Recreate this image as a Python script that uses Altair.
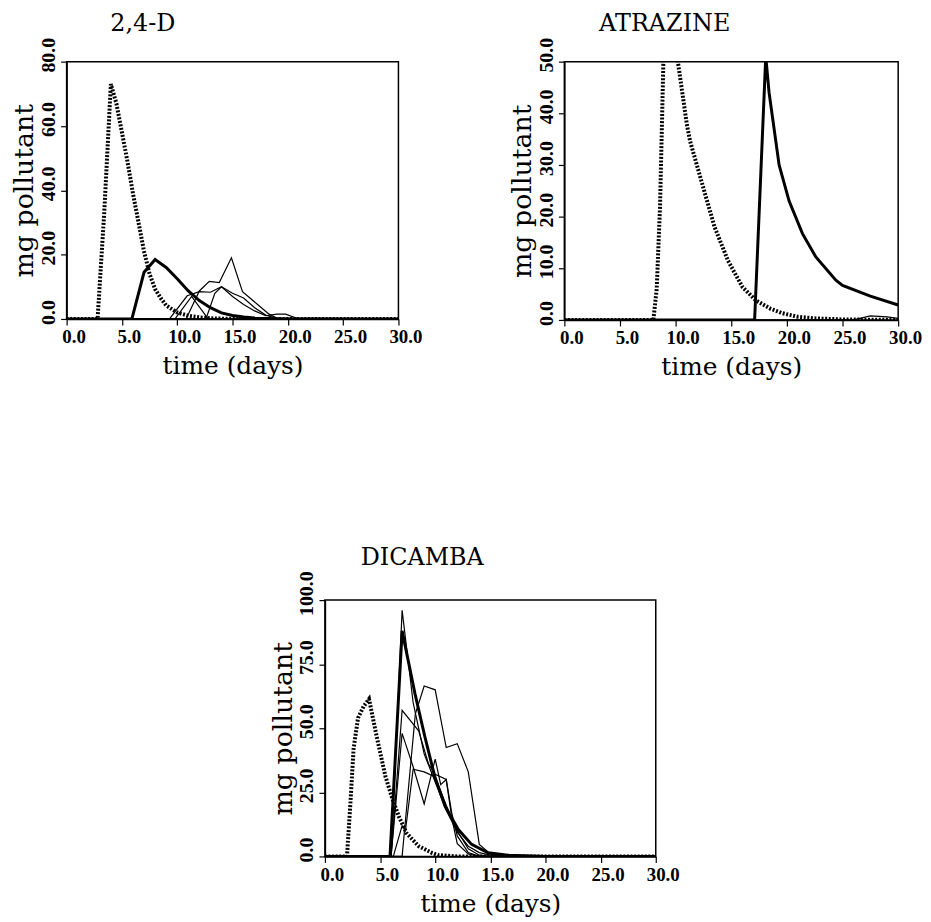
import altair as alt
import pandas as pd

# ---------------- data ----------------
# 2,4-D
d24_dot_t = [0, 2.8, 3.4, 4.0, 4.5, 5.0, 5.5, 6.0, 6.5, 7.0, 7.5, 8.0, 8.5, 9.0, 10.0, 11.0, 12.0, 13.0, 15.0, 30]
d24_dot_v = [0, 0, 33, 73, 67, 58, 49, 39, 30, 21, 14, 9.3, 6.5, 4.2, 2.0, 1.0, 0.5, 0.2, 0, 0]
d24_thick_t = [0, 5.9, 7, 8, 9, 10, 11, 12, 13, 14, 15, 16, 17, 18, 20, 30]
d24_thick_v = [0, 0, 14.5, 18.5, 16, 12.5, 8.7, 5.7, 3.5, 1.9, 1.1, 0.6, 0.3, 0.15, 0, 0]
d24_thin1_t = [0, 10.8, 12, 12.9, 13.8, 14.9, 15.9, 17.4, 18.3, 19, 30]
d24_thin1_v = [0, 0, 8.7, 11.7, 11.3, 19, 8.5, 4.1, 1.5, 0.3, 0]
d24_thin2_t = [0, 9.3, 10.9, 12, 13, 14, 15, 16, 17, 18, 19, 19.8, 21, 30]
d24_thin2_v = [0, 0, 7.2, 8.5, 8.3, 10, 7, 4.5, 2.5, 1, 1.5, 1.5, 0, 0]
d24_thin3_t = [0, 12.6, 13.4, 14, 15, 16, 17, 18, 19, 20, 30]
d24_thin3_v = [0, 0, 8, 10, 8, 6.5, 3.5, 1.2, 0.2, 0, 0]
d24_thin4_t = [0, 9.8, 11.3, 12.8, 30]
d24_thin4_v = [0, 0, 7, 0, 0]

# ATRAZINE
atr_dot_t = [0, 8.0, 8.3, 8.6, 8.9, 9.5, 10.2, 10.7, 11.0, 11.3, 12.5, 13.5, 14.7, 16.0, 17.2, 18.5, 19.6, 21.0, 22.6, 25.0, 30]
atr_dot_v = [0, 0, 6, 22, 50, 60, 50, 42.5, 38, 34.6, 25.5, 18, 11.5, 6.4, 3.8, 2.2, 1.3, 0.6, 0.3, 0.1, 0]
atr_thick_t = [0, 17.1, 18.1, 18.4, 19.3, 20.2, 21.4, 22.6, 24.4, 25.0, 27.5, 30]
atr_thick_v = [0, 0, 51, 44, 30, 23, 16.7, 12.2, 7.7, 6.7, 4.6, 2.9]
atr_thin1_t = [0, 26, 27.5, 29, 30]
atr_thin1_v = [0, 0, 0.8, 0.6, 0.3]

# DICAMBA
dic_dot_t = [0, 2.0, 2.3, 2.6, 3.0, 3.5, 4.0, 4.7, 5.5, 6.1, 6.7, 7.4, 8.5, 9.7, 10.3, 12, 30]
dic_dot_v = [0, 0, 20, 42, 54, 58.5, 61.4, 46.6, 31, 22.7, 15.6, 9.1, 4, 1.4, 0.5, 0, 0]
dic_thick_t = [0, 5.9, 7.0, 8.17, 9.07, 9.97, 10.9, 12.1, 13.3, 14.8, 16.6, 20, 30]
dic_thick_v = [0, 0, 88, 63.4, 46.6, 31, 19.5, 10.5, 4.7, 1.4, 0.5, 0, 0]
dic_thin1_t = [0, 6, 7, 8, 9, 10, 11, 12, 13, 14, 15, 30]
dic_thin1_v = [0, 0, 96, 60, 40, 29, 18, 9.5, 4, 1.5, 0.5, 0]
dic_thin2_t = [0, 6, 7, 8.5, 9.4, 10, 11, 11.5, 12, 13, 14, 30]
dic_thin2_v = [0, 0, 57, 49, 36, 32, 30, 17, 8, 1.5, 0, 0]
dic_thin3_t = [0, 6, 7, 8, 9, 10, 10.5, 11, 11.5, 12, 13, 14, 30]
dic_thin3_v = [0, 0, 48, 35, 20.5, 38, 28, 30, 15, 5, 1, 0, 0]
dic_thin4_t = [0, 7.0, 8.2, 9.0, 10.0, 11.0, 12.0, 13.0, 14.0, 15, 16, 30]
dic_thin4_v = [0, 0, 55.6, 66.5, 65, 42.5, 44, 33, 4.7, 1, 0, 0]
dic_thin5_t = [0, 6.2, 7, 7.3, 8, 9, 10, 11, 12, 13, 14, 15, 30]
dic_thin5_v = [0, 0, 12, 10, 34, 33, 31, 20, 10, 3, 0.5, 0, 0]

x_ticks = [0, 5, 10, 15, 20, 25, 30]

series = [
    ("2,4-D", "dot", "s0", d24_dot_t, d24_dot_v),
    ("2,4-D", "thick", "s1", d24_thick_t, d24_thick_v),
    ("2,4-D", "thin", "s2", d24_thin1_t, d24_thin1_v),
    ("2,4-D", "thin", "s3", d24_thin2_t, d24_thin2_v),
    ("2,4-D", "thin", "s4", d24_thin3_t, d24_thin3_v),
    ("2,4-D", "thin", "s5", d24_thin4_t, d24_thin4_v),
    ("ATRAZINE", "dot", "s0", atr_dot_t, atr_dot_v),
    ("ATRAZINE", "thick", "s1", atr_thick_t, atr_thick_v),
    ("ATRAZINE", "thin", "s2", atr_thin1_t, atr_thin1_v),
    ("DICAMBA", "dot", "s0", dic_dot_t, dic_dot_v),
    ("DICAMBA", "thick", "s1", dic_thick_t, dic_thick_v),
    ("DICAMBA", "thin", "s2", dic_thin1_t, dic_thin1_v),
    ("DICAMBA", "thin", "s3", dic_thin2_t, dic_thin2_v),
    ("DICAMBA", "thin", "s4", dic_thin3_t, dic_thin3_v),
    ("DICAMBA", "thin", "s5", dic_thin4_t, dic_thin4_v),
    ("DICAMBA", "thin", "s6", dic_thin5_t, dic_thin5_v),
]

rows = []
for panel, kind, sid, ts, vs in series:
    for t, v in zip(ts, vs):
        rows.append({"panel": panel, "kind": kind, "series": sid, "t": t, "v": v})
df = pd.DataFrame(rows)

SERIF = "DejaVu Serif"
LABEL_FONT = "Liberation Serif"


def panel(name, ymax, yticks, w, h, title_dx):
    data = df[df.panel == name]
    x = alt.X("t:Q",
              scale=alt.Scale(domain=[0, 30], nice=False),
              axis=alt.Axis(values=x_ticks, format=".1f", title="time (days)",
                            labelFont=LABEL_FONT, labelFontSize=19, labelFontWeight="bold",
                            labelOffset=7, labelPadding=3, labelFlush=False,
                            titleFont=SERIF, titleFontSize=25, titleFontWeight="normal",
                            titlePadding=7, grid=False,
                            domainColor="black", domainWidth=1.5,
                            tickColor="black", tickSize=6, tickWidth=1.2,
                            labelColor="black", titleColor="black"))
    y = alt.Y("v:Q",
              scale=alt.Scale(domain=[0, ymax], nice=False),
              axis=alt.Axis(values=yticks, format=".1f", title="mg pollutant",
                            labelAngle=-90, labelAlign="center", labelBaseline="bottom",
                            labelFont=LABEL_FONT, labelFontSize=20, labelFontWeight="bold",
                            labelOffset=-7, labelPadding=2, labelFlush=False,
                            titleFont=SERIF, titleFontSize=27, titleFontWeight="normal",
                            titlePadding=0, grid=False,
                            domainColor="black", domainWidth=1.5,
                            tickColor="black", tickSize=6, tickWidth=1.2,
                            labelColor="black", titleColor="black"))
    base = alt.Chart(data)
    thin = base.transform_filter(alt.datum.kind == "thin").mark_line(
        color="black", strokeWidth=1.2, clip=True).encode(x=x, y=y, detail="series:N")
    thick = base.transform_filter(alt.datum.kind == "thick").mark_line(
        color="black", strokeWidth=3, clip=True).encode(x=x, y=y, detail="series:N")
    dot = base.transform_filter(alt.datum.kind == "dot").mark_line(
        color="black", strokeWidth=4, strokeDash=[2, 1.6], clip=True).encode(x=x, y=y, detail="series:N")
    return alt.layer(thin, thick, dot).properties(
        width=w, height=h,
        title=alt.TitleParams(name, anchor="start", frame="group", dx=title_dx,
                              font=SERIF, fontSize=24, fontWeight="normal",
                              color="black", offset=1),
    )


p1 = panel("2,4-D", 80, [0, 20, 40, 60, 80], 334, 259, 44)
p2 = panel("ATRAZINE", 50, [0, 10, 20, 30, 40, 50], 336, 260, 35)
p3 = panel("DICAMBA", 100, [0, 25, 50, 75, 100], 333, 258, 36)

spacer = alt.Chart(pd.DataFrame({"a": [0]})).mark_point(opacity=0).encode(
    x=alt.value(0), y=alt.value(0)
).properties(width=1, height=258, view=alt.ViewBackground(strokeOpacity=0, strokeWidth=0))

top = alt.hconcat(p1, p2, spacing=167, bounds="flush")
bottom = alt.hconcat(spacer, p3, spacing=259, bounds="flush")
chart = alt.vconcat(top, bottom, spacing=165).properties(
    padding={"left": 2, "top": 0, "right": 0, "bottom": 0},
    background="white",
).configure_view(stroke="black", strokeWidth=1.5)

chart.save("out.html", embed_options={"renderer": "svg", "actions": False})
